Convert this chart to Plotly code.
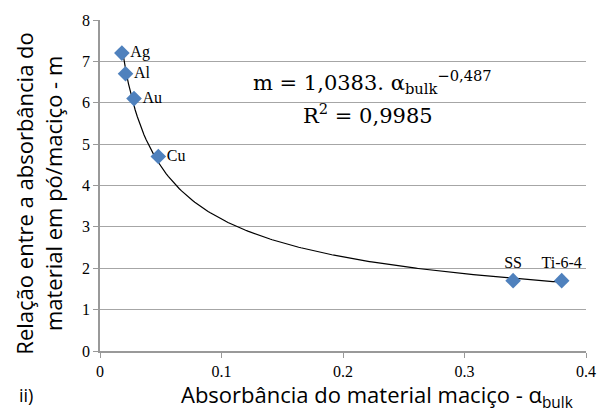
import plotly.graph_objects as go

materials = ["Ag", "Al", "Au", "Cu", "SS", "Ti-6-4"]
alpha_bulk = [0.018, 0.021, 0.028, 0.048, 0.34, 0.38]
m_ratio = [7.2, 6.7, 6.1, 4.7, 1.7, 1.7]
label_pos = ["middle right", "middle right", "middle right", "middle right", "top center", "top center"]

fit_coef = 1.0383
fit_exp = -0.487
n_curve = 200
x0, x1 = 0.018, 0.38
curve_x = [x0 + (x1 - x0) * i / (n_curve - 1) for i in range(n_curve)]
curve_y = [fit_coef * x ** fit_exp for x in curve_x]

serif = "Liberation Serif"
mathserif = "DejaVu Serif"
sans = "Open Sans"

fig = go.Figure()
fig.add_trace(go.Scatter(x=curve_x, y=curve_y, mode="lines",
                         line=dict(color="black", width=1.2), hoverinfo="skip", showlegend=False))
fig.add_trace(go.Scatter(x=alpha_bulk, y=m_ratio, mode="markers+text", text=materials,
                         textposition=label_pos,
                         textfont=dict(family=serif, size=16, color="black"),
                         marker=dict(symbol="diamond", size=12, color="#4F81BD"),
                         showlegend=False))

fig.add_annotation(x=0.56, y=0.813, xref="paper", yref="paper", xanchor="center", yanchor="middle",
                   text="m = 1,0383. α<sub>bulk</sub><sup>−0,487</sup>", showarrow=False,
                   font=dict(family=mathserif, size=21, color="black"))
fig.add_annotation(x=0.551, y=0.716, xref="paper", yref="paper", xanchor="center", yanchor="middle",
                   text="R<sup>2</sup> = 0,9985", showarrow=False,
                   font=dict(family=mathserif, size=21, color="black"))
fig.add_annotation(x=-0.152, y=-0.133, xref="paper", yref="paper", xanchor="center", yanchor="middle",
                   text="ii)", showarrow=False, font=dict(family=sans, size=18, color="black"))
fig.add_annotation(x=0.570, y=-0.1903, xref="paper", yref="paper", xanchor="center", yanchor="bottom",
                   text="Absorbância do material maciço - α<sub>bulk</sub>", showarrow=False,
                   borderpad=0, font=dict(family=sans, size=22, color="black"))
fig.add_annotation(x=-0.1265, y=0.474, xref="paper", yref="paper", xanchor="center", yanchor="middle",
                   text="Relação entre a absorbância do<br>material em pó/maciço - m", showarrow=False,
                   textangle=-90, font=dict(family=sans, size=22, color="black"))

fig.update_layout(
    width=601, height=414,
    margin=dict(l=100, r=15, t=20, b=63),
    paper_bgcolor="white", plot_bgcolor="white",
    xaxis=dict(range=[0, 0.4], tickvals=[0, 0.1, 0.2, 0.3, 0.4],
               ticktext=["0", "0.1", "0.2", "0.3", "0.4"], automargin=False,
               showgrid=False, zeroline=False, showline=True, linecolor="#999999", linewidth=1.5,
               ticks="outside", ticklen=5, tickcolor="#999999",
               tickfont=dict(family=serif, size=16, color="black")),
    yaxis=dict(range=[0, 8], dtick=1, showgrid=True, gridcolor="#A6A6A6", gridwidth=1,
               automargin=False,
               zeroline=False, showline=True, linecolor="#999999", linewidth=1.5,
               ticks="outside", ticklen=5, tickcolor="#999999",
               tickfont=dict(family=serif, size=16, color="black")),
)

fig.write_html("out.html", config={"displayModeBar": False},
               post_script="document.body.style.margin='0';document.body.style.overflow='hidden';")
